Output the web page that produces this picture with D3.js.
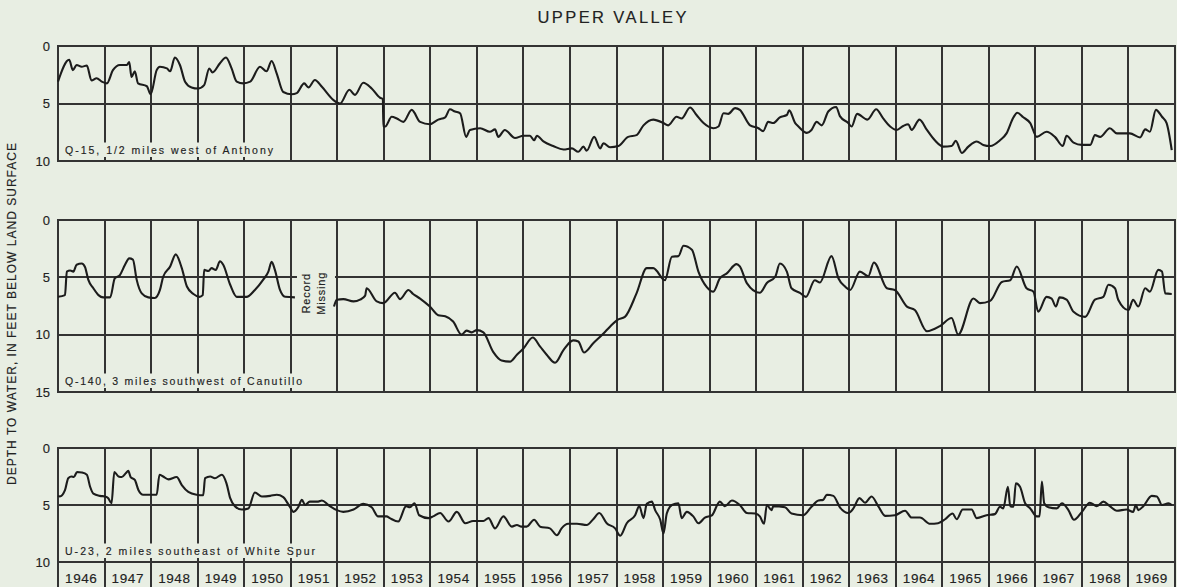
<!DOCTYPE html>
<html>
<head>
<meta charset="utf-8">
<script src="https://cdn.jsdelivr.net/npm/d3@7"></script>
<style>
  html, body { margin: 0; padding: 0; background: #e8eee3; }
  svg { display: block; font-family: "Liberation Sans", "DejaVu Sans", sans-serif; }
  .grid { stroke: #333; stroke-width: 1.3; fill: none; shape-rendering: crispEdges; }
  .hydro { stroke: #1c1c1c; stroke-width: 2.1; fill: none; stroke-linejoin: round; }
  .lab { fill: #222; stroke: #222; stroke-width: 0.15px; }
</style>
</head>
<body>
<div class="graphbox"></div>
<script>
var yearLabels = ["1946","1947","1948","1949","1950","1951","1952","1953","1954","1955","1956","1957",
  "1958","1959","1960","1961","1962","1963","1964","1965","1966","1967","1968","1969"]

var wellNames = ["Q-15, 1/2 miles west of Anthony", "Q-140, 3 miles southwest of Canutillo", "U-23, 2 miles southeast of White Spur"]
var depthMax = [10, 15, 10]
var depthTicks = [[0,5,10],[0,5,10,15],[0,5,10]]

// [year, depth to water in feet]
var q15 = [[1946.00,3.1],[1946.24,1.2],[1946.32,2.1],[1946.40,1.65],[1946.51,1.8],[1946.62,1.7],[1946.72,3.0],[1946.83,2.8],[1946.94,3.1],
  [1947.05,3.25],[1947.18,2.1],[1947.33,1.65],[1947.48,1.65],[1947.53,1.4],[1947.58,2.7],[1947.65,2.2],[1947.72,3.25],[1947.91,3.5],[1947.99,4.2],
  [1948.12,2.1],[1948.19,1.8],[1948.34,1.95],[1948.41,2.2],[1948.51,1.0],[1948.62,1.65],[1948.73,3.1],[1948.87,3.6],
  [1949.01,3.7],[1949.14,3.4],[1949.25,1.95],[1949.32,2.3],[1949.48,1.5],[1949.61,1.0],[1949.73,1.95],[1949.84,3.1],[1949.98,3.25],
  [1950.13,3.1],[1950.34,1.8],[1950.48,2.2],[1950.59,1.3],[1950.70,2.4],[1950.84,4.0],
  [1951.02,4.2],[1951.13,4.1],[1951.29,3.25],[1951.38,3.6],[1951.52,2.95],[1951.67,3.55],[1951.92,4.7],
  [1952.06,5.0],[1952.26,3.8],[1952.38,4.25],[1952.56,3.2],[1952.74,3.7],[1952.92,4.5],[1952.98,4.6],
  [1952.99,7.0],[1953.03,7.0],[1953.17,6.15],[1953.28,6.3],[1953.42,6.6],[1953.60,5.55],[1953.78,6.6],[1953.99,6.8],
  [1954.17,6.4],[1954.32,6.2],[1954.42,5.5],[1954.53,5.7],[1954.64,5.85],[1954.77,7.9],[1954.85,7.3],
  [1955.07,7.15],[1955.28,7.45],[1955.39,7.25],[1955.46,7.9],[1955.60,7.3],[1955.82,8.0],
  [1956.00,7.8],[1956.14,7.8],[1956.23,8.2],[1956.29,7.8],[1956.43,8.3],[1956.64,8.7],[1956.86,9.0],
  [1957.04,8.9],[1957.18,9.2],[1957.29,8.75],[1957.36,9.1],[1957.52,7.9],[1957.65,8.9],[1957.72,8.45],[1957.86,8.8],
  [1958.04,8.7],[1958.25,7.9],[1958.43,7.75],[1958.58,6.9],[1958.79,6.4],
  [1959.01,6.7],[1959.11,6.9],[1959.29,6.15],[1959.40,6.3],[1959.58,5.35],[1959.72,6.0],[1959.87,6.7],
  [1960.08,7.15],[1960.19,7.0],[1960.30,5.85],[1960.40,5.9],[1960.55,5.4],[1960.65,5.55],[1960.87,6.9],
  [1961.05,7.15],[1961.15,7.4],[1961.26,6.6],[1961.37,6.7],[1961.51,6.2],[1961.66,6.0],[1961.71,5.6],[1961.84,6.7],[1961.91,7.0],
  [1962.09,7.55],[1962.19,7.3],[1962.30,6.6],[1962.41,6.9],[1962.55,5.7],[1962.72,5.3],[1962.80,6.1],[1962.98,6.7],
  [1963.05,7.0],[1963.17,5.9],[1963.39,6.4],[1963.58,5.5],[1963.73,6.3],[1963.88,7.0],
  [1964.02,7.3],[1964.16,6.95],[1964.27,6.8],[1964.34,7.3],[1964.51,6.4],[1964.67,7.3],[1964.84,8.2],
  [1965.02,8.75],[1965.20,8.7],[1965.29,8.25],[1965.42,9.3],[1965.56,8.75],[1965.74,8.3],[1965.88,8.6],
  [1966.03,8.7],[1966.24,8.2],[1966.38,7.6],[1966.53,6.2],[1966.61,5.8],[1966.74,6.2],[1966.89,6.7],
  [1967.03,7.9],[1967.24,7.45],[1967.42,7.9],[1967.59,8.7],[1967.67,7.8],[1967.82,8.4],
  [1968.00,8.6],[1968.18,8.6],[1968.28,7.75],[1968.39,7.9],[1968.60,7.15],[1968.75,7.6],
  [1969.03,7.6],[1969.25,7.95],[1969.36,7.25],[1969.46,7.45],[1969.59,5.55],[1969.72,6.15],[1969.82,6.7],[1969.93,9.05]]

var q140 = [[1946.00,6.7],[1946.15,6.55],[1946.19,4.5],[1946.26,4.4],[1946.33,4.5],[1946.40,3.9],[1946.51,3.8],[1946.58,4.1],[1946.65,5.2],[1946.76,5.95],[1946.87,6.55],[1946.97,6.75],
  [1947.12,6.75],[1947.22,5.1],[1947.33,4.8],[1947.44,3.9],[1947.53,3.35],[1947.61,3.45],[1947.69,5.2],[1947.80,6.4],[1947.94,6.75],
  [1948.08,6.8],[1948.19,6.1],[1948.26,4.95],[1948.41,4.05],[1948.53,3.0],[1948.66,4.2],[1948.77,5.8],[1948.91,6.45],
  [1949.04,6.7],[1949.11,6.55],[1949.14,4.35],[1949.23,4.45],[1949.30,4.2],[1949.39,4.35],[1949.48,3.6],[1949.55,3.9],[1949.70,5.65],[1949.84,6.7],
  [1950.05,6.7],[1950.23,6.1],[1950.41,5.2],[1950.52,4.5],[1950.59,3.65],[1950.66,4.35],[1950.77,6.1],[1950.88,6.7],
  [1951.09,6.75],
  [1951.50,null],
  [1951.93,7.55],[1951.99,6.95],[1952.13,6.9],[1952.35,7.1],[1952.49,6.95],[1952.60,6.6],[1952.63,5.95],[1952.85,7.1],[1952.99,7.25],
  [1953.24,6.35],[1953.35,6.9],[1953.53,6.1],[1953.63,6.45],[1953.78,6.85],[1953.99,7.55],
  [1954.17,8.3],[1954.32,8.4],[1954.49,8.85],[1954.67,10.0],[1954.78,9.65],[1954.89,9.8],
  [1955.00,9.6],[1955.14,9.8],[1955.35,11.5],[1955.53,12.25],[1955.71,12.35],[1955.86,11.75],
  [1956.00,11.2],[1956.20,10.25],[1956.36,11.05],[1956.50,11.75],[1956.68,12.45],[1956.86,11.35],
  [1957.07,10.5],[1957.18,10.6],[1957.30,11.55],[1957.50,10.75],[1957.72,9.9],[1957.86,9.3],
  [1958.02,8.7],[1958.18,8.45],[1958.43,6.4],[1958.65,4.2],[1958.79,4.2],
  [1959.04,5.25],[1959.19,3.2],[1959.33,3.15],[1959.44,2.25],[1959.62,2.6],[1959.76,4.5],[1959.94,5.85],
  [1960.08,6.25],[1960.22,5.1],[1960.37,4.65],[1960.58,3.85],[1960.65,4.05],[1960.80,5.5],
  [1961.08,6.35],[1961.23,5.5],[1961.41,4.95],[1961.51,3.8],[1961.66,4.5],[1961.76,5.95],[1961.94,6.35],
  [1962.07,6.7],[1962.26,5.25],[1962.37,5.45],[1962.62,3.15],[1962.77,5.1],[1962.91,5.8],
  [1963.02,6.1],[1963.23,4.5],[1963.41,4.9],[1963.53,3.7],[1963.81,5.95],[1963.98,6.1],
  [1964.24,7.55],[1964.41,7.85],[1964.67,9.7],[1964.95,9.25],
  [1965.20,8.55],[1965.34,10.0],[1965.67,6.85],[1965.81,7.25],
  [1966.03,7.05],[1966.28,5.4],[1966.46,5.25],[1966.60,4.05],[1966.81,5.95],[1966.96,6.25],
  [1967.06,8.0],[1967.24,6.7],[1967.35,6.85],[1967.44,7.55],[1967.52,6.75],[1967.67,6.95],[1967.82,8.0],
  [1968.07,8.45],[1968.28,6.95],[1968.46,6.7],[1968.57,5.65],[1968.71,5.95],[1968.78,6.95],
  [1969.00,7.85],[1969.10,6.95],[1969.21,7.55],[1969.36,5.95],[1969.46,6.25],[1969.64,4.35],[1969.72,4.5],[1969.79,6.4],[1969.93,6.45]]

var u23 = [[1946.00,4.2],[1946.04,4.25],[1946.15,3.7],[1946.22,2.65],[1946.29,2.5],[1946.34,2.55],[1946.41,2.1],[1946.51,2.15],[1946.62,2.35],[1946.69,3.4],[1946.76,4.0],[1946.90,4.2],
  [1947.01,4.25],[1947.08,4.4],[1947.15,4.85],[1947.21,2.1],[1947.30,2.5],[1947.37,2.55],[1947.46,2.2],[1947.51,2.0],[1947.56,2.55],[1947.65,2.8],[1947.73,3.7],[1947.83,4.1],[1947.94,4.1],
  [1948.12,4.1],[1948.18,2.35],[1948.26,2.5],[1948.37,2.75],[1948.55,2.55],[1948.66,3.25],[1948.80,3.85],[1948.98,4.1],
  [1949.12,4.15],[1949.16,2.65],[1949.27,2.5],[1949.37,2.65],[1949.52,2.35],[1949.62,3.1],[1949.70,4.4],[1949.80,5.1],[1949.95,5.4],
  [1950.09,5.3],[1950.23,3.9],[1950.38,4.25],[1950.56,4.2],[1950.70,4.1],[1950.84,4.3],[1950.98,5.15],
  [1951.06,5.6],[1951.16,5.2],[1951.24,4.55],[1951.31,5.0],[1951.41,4.7],[1951.59,4.7],[1951.67,4.6],[1951.81,5.0],[1951.99,5.45],
  [1952.13,5.6],[1952.35,5.4],[1952.56,4.9],[1952.74,5.2],[1952.88,6.0],
  [1953.06,6.0],[1953.13,6.15],[1953.31,6.45],[1953.48,5.1],[1953.56,5.2],[1953.66,4.85],[1953.76,5.9],[1953.96,6.15],
  [1954.06,6.0],[1954.21,5.7],[1954.39,6.45],[1954.57,5.6],[1954.75,6.6],[1954.92,6.4],
  [1955.14,6.4],[1955.25,6.15],[1955.39,7.05],[1955.57,6.0],[1955.75,6.9],[1955.86,6.75],[1955.96,6.9],
  [1956.07,6.9],[1956.23,6.3],[1956.36,6.9],[1956.57,7.05],[1956.72,7.65],[1956.82,7.05],[1956.96,6.65],
  [1957.15,6.65],[1957.36,6.75],[1957.50,6.25],[1957.63,5.7],[1957.79,6.6],[1957.97,7.05],
  [1958.08,7.7],[1958.22,6.6],[1958.40,5.9],[1958.49,5.1],[1958.58,6.15],[1958.65,4.9],[1958.76,4.7],[1958.83,5.45],[1958.94,6.3],
  [1959.01,7.5],[1959.08,5.75],[1959.19,5.0],[1959.33,4.85],[1959.40,6.15],[1959.51,5.6],[1959.65,6.0],[1959.76,6.6],[1959.90,6.1],
  [1960.05,5.9],[1960.22,4.7],[1960.33,5.1],[1960.48,4.6],[1960.65,5.0],[1960.80,5.7],[1960.98,5.75],
  [1961.08,6.0],[1961.17,6.65],[1961.23,5.0],[1961.33,5.45],[1961.37,5.1],[1961.62,5.2],[1961.76,5.75],
  [1962.01,5.9],[1962.19,5.15],[1962.34,4.6],[1962.44,4.55],[1962.52,4.1],[1962.66,4.2],[1962.80,5.2],[1962.98,5.7],
  [1963.09,5.3],[1963.22,4.4],[1963.34,4.8],[1963.48,4.25],[1963.63,5.15],[1963.77,5.95],[1963.98,5.9],
  [1964.20,5.5],[1964.34,6.1],[1964.52,6.1],[1964.74,6.65],[1964.91,6.6],
  [1965.06,6.25],[1965.22,5.75],[1965.31,6.25],[1965.44,5.4],[1965.63,5.4],[1965.74,6.15],[1965.95,5.9],
  [1966.13,5.8],[1966.24,5.15],[1966.31,5.3],[1966.41,3.4],[1966.46,5.1],[1966.53,5.15],[1966.58,3.1],[1966.67,3.4],[1966.78,4.85],[1966.89,5.3],
  [1967.03,6.0],[1967.09,6.0],[1967.14,2.95],[1967.19,4.85],[1967.28,5.2],[1967.46,5.3],[1967.57,4.85],[1967.71,5.45],[1967.83,6.3],
  [1968.00,5.6],[1968.17,4.8],[1968.32,5.1],[1968.46,4.7],[1968.60,5.1],[1968.75,5.5],[1968.96,5.4],
  [1969.10,5.6],[1969.16,5.0],[1969.21,5.45],[1969.32,5.1],[1969.50,4.2],[1969.61,4.25],[1969.72,5.0],[1969.86,4.85],[1969.93,5.0]]

var wellData = [q15, q140, u23]

var svgWidth = 1177
var svgHeight = 587
var paper = "#e8eee3"
var left = 58, right = 1175
var panelTop = [46, 220, 448]
var panelBottom = [161, 392, 562]
var labelLen = [208, 237, 250]

var mysvg = d3.select(".graphbox")
  .append("svg")
  .attr("width", svgWidth)
  .attr("height", svgHeight)
 ;

mysvg.append("rect")
  .attr("width", svgWidth)
  .attr("height", svgHeight)
  .attr("fill", paper)
 ;

var x = d3.scaleLinear()
  .domain([1946, 1970])
  .range([left, right])
 ;
var yearEdges = d3.range(1946, 1971)

mysvg.append("text")
  .attr("class", "lab")
  .attr("x", 612)
  .attr("y", 23)
  .attr("text-anchor", "middle")
  .attr("font-size", "16.5px")
  .attr("textLength", 149)
  .attr("lengthAdjust", "spacing")
  .text("UPPER VALLEY")
 ;

mysvg.append("text")
  .attr("class", "lab")
  .attr("transform", "translate(16,314) rotate(-90)")
  .attr("text-anchor", "middle")
  .attr("font-size", "12px")
  .attr("textLength", 342)
  .attr("lengthAdjust", "spacing")
  .text("DEPTH TO WATER, IN FEET BELOW LAND SURFACE")
 ;

wellData.forEach(function(series, p) {
  var y = d3.scaleLinear()
    .domain([0, depthMax[p]])
    .range([panelTop[p], panelBottom[p]])
   ;
  var g = mysvg.append("g")

  g.selectAll("line.v")
    .data(yearEdges)
    .enter()
    .append("line")
    .attr("class", "grid")
    .attr("x1", function(d) { return Math.round(x(d)); })
    .attr("x2", function(d) { return Math.round(x(d)); })
    .attr("y1", panelTop[p])
    .attr("y2", p == 2 ? svgHeight : panelBottom[p])
   ;

  g.selectAll("line.h")
    .data(depthTicks[p])
    .enter()
    .append("line")
    .attr("class", "grid")
    .attr("x1", left)
    .attr("x2", right)
    .attr("y1", function(d) { return Math.round(y(d)); })
    .attr("y2", function(d) { return Math.round(y(d)); })
   ;

  g.selectAll("text.tick")
    .data(depthTicks[p])
    .enter()
    .append("text")
    .attr("class", "lab")
    .attr("x", left - 8)
    .attr("y", function(d) { return y(d) + 4.5; })
    .attr("text-anchor", "end")
    .attr("font-size", "13px")
    .text(function(d) { return d; })
   ;

  // well name sits on a blank patch that cuts the grid
  var name = g.append("text")
    .attr("class", "lab")
    .attr("x", 65)
    .attr("y", panelBottom[p] - 7.5)
    .attr("font-size", "10.5px")
    .attr("textLength", labelLen[p])
    .attr("lengthAdjust", "spacing")
    .text(wellNames[p])
   ;
  var bb = name.node().getBBox()
  g.insert("rect", "text")
    .attr("x", 60)
    .attr("y", bb.y - 1)
    .attr("width", bb.width + 9)
    .attr("height", panelBottom[p] - 4 - (bb.y - 1))
    .attr("fill", paper)
   ;

  if (p == 1) {
    var rm = g.append("g")
      .attr("transform", "translate(" + (x(1951.5) + 1) + "," + (y(5) + 16) + ") rotate(-90)")
     ;
    rm.append("rect")
      .attr("x", -24)
      .attr("y", -18)
      .attr("width", 48)
      .attr("height", 38)
      .attr("fill", paper)
     ;
    rm.selectAll("text")
      .data(["Record", "Missing"])
      .enter()
      .append("text")
      .attr("class", "lab")
      .attr("x", 0)
      .attr("y", function(d, i) { return -5 + i * 15; })
      .attr("text-anchor", "middle")
      .attr("font-size", "11px")
      .attr("letter-spacing", "0.8px")
      .text(function(d) { return d; })
     ;
  }

  g.append("rect")
    .attr("class", "grid")
    .attr("x", left)
    .attr("y", panelTop[p])
    .attr("width", right - left)
    .attr("height", panelBottom[p] - panelTop[p])
   ;

  var hydro = d3.line()
    .defined(function(d) { return d[1] != null; })
    .x(function(d) { return x(d[0]); })
    .y(function(d) { return y(d[1]); })
    .curve(d3.curveMonotoneX)
   ;

  g.append("path")
    .datum(series)
    .attr("class", "hydro")
    .attr("d", hydro)
   ;
})

mysvg.selectAll("text.year")
  .data(yearLabels)
  .enter()
  .append("text")
  .attr("class", "lab")
  .attr("x", function(d) { return x(+d + 0.5); })
  .attr("y", 583)
  .attr("text-anchor", "middle")
  .attr("font-size", "13.5px")
  .attr("letter-spacing", "0.6px")
  .text(function(d) { return d; })
 ;
</script>
</body>
</html>
